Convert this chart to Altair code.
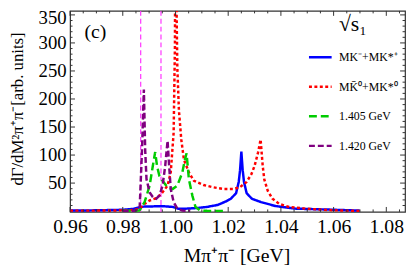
import altair as alt
import pandas as pd

# ---- data ----
series = ["MK⁻+MK*⁺", "MK̄⁰+MK*⁰", "1.405 GeV", "1.420 GeV"]
colors = ["#0000ff", "#ff0000", "#00cc00", "#800080"]
dashes = [[1, 0], [3, 2.5], [8, 4], [6, 3]]

blue_x = [0.960, 0.970, 0.980, 0.984, 0.986, 0.988, 0.992, 0.996, 0.999, 1.001, 1.004, 1.008,
          1.012, 1.016, 1.019, 1.021, 1.023, 1.024, 1.0245, 1.025, 1.0255, 1.026, 1.027, 1.029,
          1.0325, 1.038, 1.0455, 1.057, 1.0699]
blue_y = [0.9, 1.4, 2.4, 3.9, 6.4, 8, 8.5, 8.5, 7.5, 4.4, 4.4, 5.4,
          7.5, 11, 17, 22, 32, 52, 73, 106, 73, 52, 32, 22,
          16, 9, 4.4, 2.9, 0.9]

red_x = [0.960, 0.970, 0.980, 0.984, 0.9864, 0.9883, 0.9902, 0.9927, 0.9945, 0.997, 0.9982,
         0.9993, 0.9998, 1.0000, 1.0003, 1.0007, 1.0013, 1.0022, 1.0032, 1.0051, 1.007, 1.0107,
         1.0144, 1.0182, 1.0219, 1.0244, 1.0269, 1.0288, 1.0300, 1.0313, 1.0323, 1.0331, 1.0337,
         1.0350, 1.0368, 1.0393, 1.0431, 1.0493, 1.058, 1.0643, 1.0699]
red_y = [0.9, 0.9, 1.4, 1.9, 4.4, 13, 19, 23, 30, 45.5, 69,
         140, 296, 600, 400, 256, 180, 127.6, 92, 69, 54, 46.5,
         42.4, 39.4, 39.4, 42.4, 51.6, 65.8, 80.5, 104, 127.6, 80.5, 56.6,
         36.4, 22.2, 13, 7.4, 4.4, 1.9, 0.9, 0.4]

green_x = [0.980, 0.9845, 0.9864, 0.9883, 0.9902, 0.9914, 0.9923, 0.9930, 0.9939, 0.9951,
           0.9970, 0.9989, 1.0007, 1.0026, 1.0036, 1.0042, 1.0051, 1.0064, 1.0076, 1.0094,
           1.012, 1.018]
green_y = [0.5, 0.5, 1.4, 16.6, 45.5, 80.5, 105.3, 80.5, 62.7, 54.1,
           42.4, 39.4, 45.5, 68.8, 92.1, 103.3, 56.6, 27.7, 7.4, 0.9,
           0.5, 0.3]

purple_x = [0.980, 0.9845, 0.9864, 0.9873, 0.9880, 0.9885, 0.9890, 0.9902, 0.9914, 0.9927,
            0.9939, 0.9951, 0.9961, 0.9970, 0.9976, 0.9982, 0.9993, 1.0007, 1.0026, 1.0056]
purple_y = [0.5, 0.5, 4.4, 109.4, 216.8, 109.4, 57.1, 33.3, 25.2, 22.2,
            27.7, 45.5, 80.5, 125.6, 80.5, 39.4, 16.1, 4.4, 0.9, 0.5]

threshold_x = [0.9868, 0.9945]
panel_label = ["(c)"]
panel_x = [0.9696]
panel_y = [320]

x_major = [0.96, 0.98, 1.00, 1.02, 1.04, 1.06, 1.08]
x_minor = [round(0.96 + 0.005 * i, 3) for i in range(26) if i % 4 != 0]
y_major = [50, 100, 150, 200, 250, 300, 350]
y_minor = [v for v in range(10, 351, 10) if v % 50 != 0]

# ---- build tables ----
rows = []
for name, xs, ys in zip(series, [blue_x, red_x, green_x, purple_x],
                        [blue_y, red_y, green_y, purple_y]):
    for a, b in zip(xs, ys):
        rows.append({"x": a, "y": b, "series": name})
df = pd.DataFrame(rows)
thr = pd.DataFrame({"x": threshold_x})
lab = pd.DataFrame({"x": panel_x, "y": panel_y, "t": panel_label})

W, H = 340, 204
xscale = alt.Scale(domain=[0.96, 0.96 + 340 / 2675], nice=False, zero=False)
yscale = alt.Scale(domain=[-1.4, 357.1], nice=False, zero=False)
FONT = "Liberation Serif"
TC = "#333333"

rules = alt.Chart(thr).mark_rule(color="#ff33ff", strokeWidth=1.2, strokeDash=[5, 3]).encode(
    x=alt.X("x:Q", scale=xscale, axis=None)
)

lines = alt.Chart(df).mark_line(clip=True, strokeWidth=2.5).encode(
    x=alt.X("x:Q", scale=xscale,
            axis=alt.Axis(orient="bottom", values=x_major, format=".2f", ticks=False,
                          domain=False, grid=False, labelFont=FONT, labelFontSize=20,
                          labelColor="black", labelPadding=5, labelFlush=False,
                          title="Mπ⁺π⁻ [GeV]", titleFont=FONT, titleFontSize=20,
                          titleFontWeight="normal", titleColor="black",
                          titleX=169, titleY=44, titleBaseline="middle")),
    y=alt.Y("y:Q", scale=yscale,
            axis=alt.Axis(orient="left", values=y_major, ticks=False, domain=False, grid=False,
                          labelFont=FONT, labelFontSize=19, labelColor="black",
                          labelPadding=4, labelFlush=False,
                          labelOffset=alt.condition("datum.value >= 350", alt.value(3),
                                                    alt.value(0)),
                          title="dΓ/dM²π⁺π⁻[arb. units]", titleFont=FONT, titleFontSize=17,
                          titleFontWeight="normal", titleColor="black", titleAngle=270,
                          titleX=-53, titleY=99, titleBaseline="middle", titleAlign="center")),
    color=alt.Color("series:N", scale=alt.Scale(domain=series, range=colors),
                    legend=alt.Legend(title="√s₁", orient="none", legendX=241, legendY=3,
                                      titleFont=FONT, titleFontSize=22, titleFontWeight="normal",
                                      titleAnchor="middle", titlePadding=9, titleColor="black",
                                      labelFont=FONT, labelFontSize=12, labelColor="black",
                                      symbolType="stroke", symbolSize=529, symbolStrokeWidth=2.5,
                                      labelOffset=6, rowPadding=11, padding=0)),
    strokeDash=alt.StrokeDash("series:N", scale=alt.Scale(domain=series, range=dashes),
                              legend=alt.Legend(title="√s₁")),
    detail="series:N",
)

text = alt.Chart(lab).mark_text(font=FONT, fontSize=20, color="black").encode(
    x=alt.X("x:Q", scale=xscale, axis=None),
    y=alt.Y("y:Q", scale=yscale, axis=None),
    text="t:N",
)


def xticks(vals, size):
    d = pd.DataFrame({"x": vals})
    bottom = alt.Chart(d).mark_rule(color=TC, strokeWidth=1).encode(
        x=alt.X("x:Q", scale=xscale, axis=None), y=alt.value(H), y2=alt.value(H - size))
    top = alt.Chart(d).mark_rule(color=TC, strokeWidth=1).encode(
        x=alt.X("x:Q", scale=xscale, axis=None), y=alt.value(0), y2=alt.value(size))
    return [bottom, top]


def yticks(vals, size):
    d = pd.DataFrame({"y": vals})
    left = alt.Chart(d).mark_rule(color=TC, strokeWidth=1).encode(
        y=alt.Y("y:Q", scale=yscale, axis=None), x=alt.value(0), x2=alt.value(size))
    right = alt.Chart(d).mark_rule(color=TC, strokeWidth=1).encode(
        y=alt.Y("y:Q", scale=yscale, axis=None), x=alt.value(W), x2=alt.value(W - size))
    return [left, right]


tick_layers = (xticks(x_major, 5) + xticks(x_minor, 2.5)
               + yticks(y_major, 5) + yticks(y_minor, 2.5))

chart = alt.layer(
    rules, lines, text, *tick_layers
).resolve_axis(x="independent", y="independent").properties(
    width=W, height=H,
    autosize=alt.AutoSizeParams(type="none"),
    padding={"left": 63, "top": 1, "right": 2, "bottom": 56},
).configure_view(stroke=TC, strokeWidth=1.2)

chart.save("out.html", embed_options={"renderer": "svg", "actions": False})
